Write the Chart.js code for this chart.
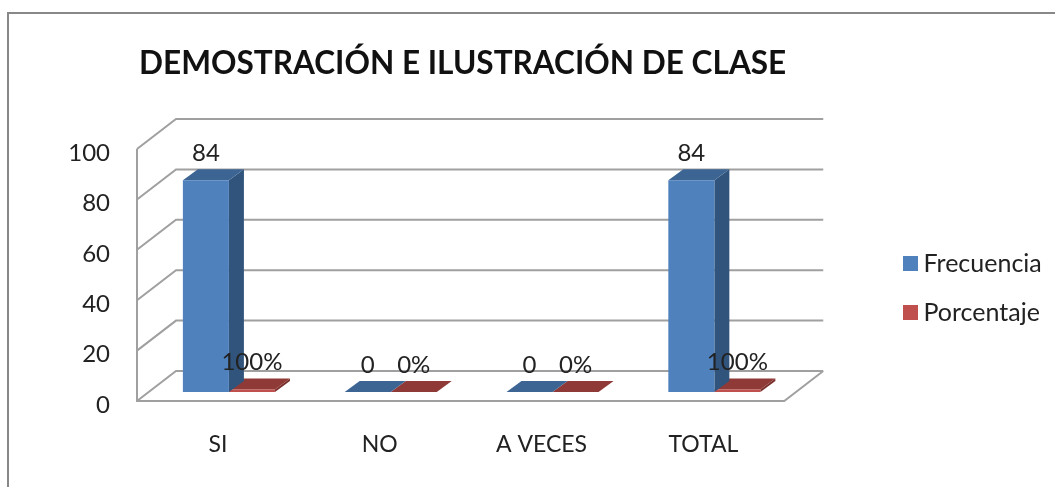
<!DOCTYPE html>
<html>
<head>
<meta charset="utf-8">
<title>Demostración e ilustración de clase</title>
<script src="https://cdn.jsdelivr.net/npm/chart.js@4"></script>
<style>
  html, body { margin: 0; padding: 0; background: #fff; }
  #grafico { display: block; }
</style>
</head>
<body>
<div style="width:1055px;height:487px"><canvas id="grafico"></canvas></div>
<script>
const categorias = ["SI", "NO", "A VECES", "TOTAL"];
const frecuencia = [84, 0, 0, 84];
const porcentaje = [1, 0, 0, 1];
const textoFrecuencia = ["84", "0", "0", "84"];
const textoPorcentaje = ["100%", "0%", "0%", "100%"];
const ticksY = [0, 20, 40, 60, 80, 100];

const FUENTE = "Lato";
const TEXTO = "#222";
const REJILLA = "#a0a0a0";

// profundidad del falso 3D, en px
const PARED = { x: 39, y: -30 };
const DESPLAZA = { x: 11, y: -9 };
const FONDO = { x: 15, y: -11 };

const caras = [
  { lado: "#31547c", techo: "#3d6593" },
  { lado: "#7a2f2c", techo: "#8f3a36" }
];

function poligono(ctx, puntos, color) {
  ctx.fillStyle = color;
  ctx.beginPath();
  puntos.forEach((p, i) => i ? ctx.lineTo(p[0], p[1]) : ctx.moveTo(p[0], p[1]));
  ctx.closePath();
  ctx.fill();
}

const marco = {
  id: "marco",
  beforeDraw(chart) {
    const ctx = chart.ctx;
    ctx.save();
    ctx.strokeStyle = "#888";
    ctx.lineWidth = 2;
    ctx.beginPath();
    ctx.moveTo(8, 487);
    ctx.lineTo(8, 13);
    ctx.lineTo(1055, 13);
    ctx.stroke();
    ctx.restore();
  }
};

const paredes = {
  id: "paredes",
  afterLayout(chart) {
    // la leyenda va separada del area del grafico
    const ley = chart.legend;
    const dx = 886 - ley.left;
    const dy = 288 - (ley.top + ley.bottom) / 2;
    ley.left += dx; ley.right += dx;
    ley.top += dy; ley.bottom += dy;
    chart.titleBlock.left += 2;
    chart.titleBlock.right += 2;
  },
  beforeDatasetsDraw(chart) {
    const ctx = chart.ctx;
    const { left, right } = chart.chartArea;
    const y = chart.scales.y;
    ctx.save();
    ctx.strokeStyle = REJILLA;
    ctx.lineWidth = 2;
    ctx.beginPath();
    y.ticks.forEach(t => {
      const py = y.getPixelForValue(t.value);
      ctx.moveTo(left, py);
      ctx.lineTo(left + PARED.x, py + PARED.y);
      ctx.lineTo(right + PARED.x, py + PARED.y);
    });
    const py0 = y.getPixelForValue(0);
    ctx.moveTo(left, y.getPixelForValue(100));
    ctx.lineTo(left, py0);
    ctx.lineTo(right, py0);
    ctx.lineTo(right + PARED.x, py0 + PARED.y);
    ctx.stroke();
    ctx.restore();
  }
};

const barras3d = {
  id: "barras3d",
  beforeDatasetDraw(chart, args) {
    const ctx = chart.ctx;
    const cara = caras[args.index];
    ctx.save();
    ctx.translate(DESPLAZA.x, DESPLAZA.y);
    chart.getDatasetMeta(args.index).data.forEach(b => {
      const x0 = b.x - b.width / 2;
      const x1 = b.x + b.width / 2;
      poligono(ctx, [[x1, b.y], [x1 + FONDO.x, b.y + FONDO.y], [x1 + FONDO.x, b.base + FONDO.y], [x1, b.base]], cara.lado);
      poligono(ctx, [[x0, b.y], [x0 + FONDO.x, b.y + FONDO.y], [x1 + FONDO.x, b.y + FONDO.y], [x1, b.y]], cara.techo);
    });
  },
  afterDatasetDraw(chart) {
    chart.ctx.restore();
  },
  afterDatasetsDraw(chart) {
    const ctx = chart.ctx;
    ctx.save();
    ctx.font = "24px " + FUENTE;
    ctx.fillStyle = TEXTO;
    ctx.textAlign = "center";
    ctx.textBaseline = "middle";
    [textoFrecuencia, textoPorcentaje].forEach((textos, d) => {
      chart.getDatasetMeta(d).data.forEach((b, i) => {
        ctx.fillText(textos[i], b.x + DESPLAZA.x, b.y + DESPLAZA.y - 27);
      });
    });
    ctx.restore();
  }
};

new Chart(document.getElementById("grafico"), {
  type: "bar",
  data: {
    labels: categorias,
    datasets: [
      { label: "Frecuencia", data: frecuencia, backgroundColor: "#4f81bd", barPercentage: 1, categoryPercentage: 0.569 },
      { label: "Porcentaje", data: porcentaje, backgroundColor: "#c0504d", barPercentage: 1, categoryPercentage: 0.569 }
    ]
  },
  plugins: [marco, paredes, barras3d],
  options: {
    responsive: true,
    maintainAspectRatio: false,
    animation: false,
    clip: false,
    layout: { padding: { left: 0, right: 105, top: 0, bottom: 0 } },
    plugins: {
      tooltip: { enabled: false },
      title: {
        display: true,
        text: "DEMOSTRACIÓN E ILUSTRACIÓN DE CLASE",
        align: "start",
        fullSize: false,
        color: "#111",
        font: { family: FUENTE, size: 32.2, weight: "bold" },
        padding: { top: 44, bottom: 66.4 }
      },
      legend: {
        position: "right",
        labels: {
          color: TEXTO,
          font: { family: FUENTE, size: 25 },
          boxWidth: 1,
          boxHeight: 1,
          padding: 24,
          // cuadro de 15px hecho con el borde: deja el texto pegado como en el original
          generateLabels(chart) {
            return Chart.defaults.plugins.legend.labels.generateLabels(chart).map(it => {
              it.lineWidth = 14;
              it.strokeStyle = it.fillStyle;
              return it;
            });
          }
        }
      }
    },
    scales: {
      x: {
        grid: { display: false, drawTicks: false },
        border: { display: false },
        ticks: { color: TEXTO, font: { family: FUENTE, size: 23 }, padding: 30, maxRotation: 0 },
        afterFit(scale) { scale.height = 86; }
      },
      y: {
        min: 0,
        max: 100,
        grid: { display: false, drawTicks: false },
        border: { display: false },
        afterBuildTicks(scale) { scale.ticks = ticksY.map(v => ({ value: v })); },
        ticks: { color: TEXTO, font: { family: FUENTE, size: 24 }, padding: 27, labelOffset: 4 },
        afterFit(scale) { scale.width = 137; }
      }
    }
  }
});
</script>
</body>
</html>
